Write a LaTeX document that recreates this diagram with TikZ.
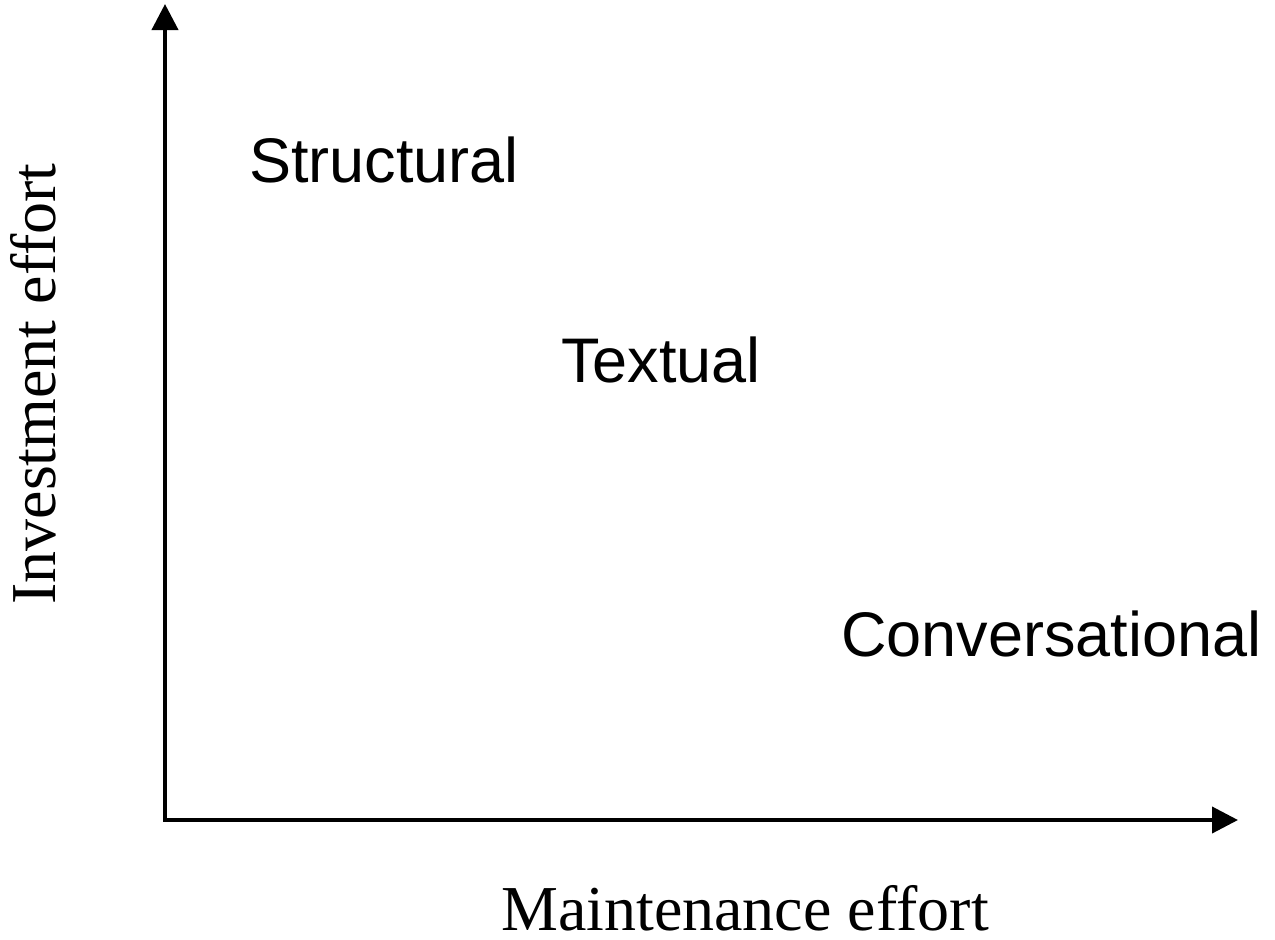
\documentclass[tikz,border=0pt]{standalone}
\usepackage{fontspec}
\setmainfont{Liberation Serif}
\newfontfamily\labelsans{Liberation Sans}
\usetikzlibrary{arrows.meta}
\begin{document}
\begin{tikzpicture}[x=1pt,y=1pt,
  axis/.style={line width=4pt,{Triangle[length=26pt,width=26pt]}-{Triangle[length=26pt,width=26pt]}},
  cat/.style={inner sep=0pt,anchor=base west,font=\labelsans\fontsize{63}{70}\selectfont},
  axlabel/.style={inner sep=0pt,anchor=base,font=\rmfamily\fontsize{64}{72}\selectfont}]
\useasboundingbox (0,0) rectangle (1275,-940);
\coordinate (origin) at (165,-820);
\coordinate (ytip) at (165,-4);
\coordinate (xtip) at (1238,-820);
\draw[axis] (ytip) -- (origin) -- (xtip);
\node[cat] (structural) at (249,-182) {Structural};
\node[cat] (textual) at (561,-382) {Textual};
\node[cat] (conversational) at (841,-656) {Conversational};
\node[axlabel] (xlabel) at (745,-930) {Maintenance effort};
\node[axlabel,rotate=90] (ylabel) at (55,-384) {Investment effort};
\end{tikzpicture}
\end{document}
